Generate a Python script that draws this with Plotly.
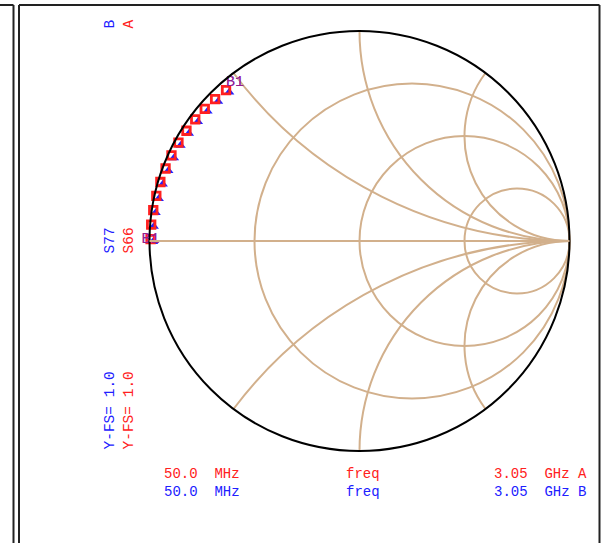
import numpy as np
import plotly.graph_objects as go

# Reflection coefficient (magnitude, angle in degrees)
A_MAG = [0.995, 0.995, 0.993, 0.991, 0.989, 0.986, 0.984, 0.981, 0.977, 0.973, 0.969, 0.964, 0.959]
A_ANG = [179.5, 175.5, 171.5, 167.5, 163.5, 159.5, 155.5, 151.5, 147.5, 143.5, 139.5, 135.5, 131.5]
B_MAG = [0.983, 0.982, 0.980, 0.977, 0.975, 0.970, 0.968, 0.966, 0.960, 0.956, 0.952, 0.946, 0.942]
B_ANG = [-179.8, 176.0, 172.1, 168.1, 163.9, 159.8, 155.9, 151.9, 147.8, 143.6, 139.5, 135.4, 131.2]

R_GRID = [1/3, 1.0, 3.0]                       # constant-resistance circles
X_GRID = [-2.0, -1.0, -0.5, 0.5, 1.0, 2.0]     # constant-reactance arcs

MARKER_LABEL = "B1"
SIDE_LABELS_B = ["B", "S77", "Y-FS= 1.0"]
SIDE_LABELS_A = ["A", "S66", "Y-FS= 1.0"]
BOTTOM_A = ["50.0  MHz", "freq", "3.05  GHz A"]
BOTTOM_B = ["50.0  MHz", "freq", "3.05  GHz B"]

RED = "#ff2020"
BLUE = "#2020ff"
TAN = "#d2b08c"
FONT = "Liberation Mono, Courier New, monospace"


def to_z(mag, ang):
    g = np.array(mag) * np.exp(1j * np.deg2rad(np.array(ang)))
    z = (1 + g) / (1 - g)
    return z.real, z.imag


aR, aX = to_z(A_MAG, A_ANG)
bR, bX = to_z(B_MAG, B_ANG)

fig = go.Figure()
fig.add_trace(go.Scattersmith(real=bR, imag=bX, mode="markers",
                              marker=dict(symbol="triangle-up", size=9, color=BLUE),
                              hoverinfo="skip"))
fig.add_trace(go.Scattersmith(real=aR, imag=aX, mode="markers",
                              marker=dict(symbol="square-open", size=7.5, color=RED,
                                          line=dict(width=2.8, color=RED)),
                              hoverinfo="skip"))
idx = [0, len(aR) - 1]
fig.add_trace(go.Scattersmith(real=aR[idx], imag=aX[idx], mode="text",
                              text=[MARKER_LABEL] * 2,
                              textposition=["middle center", "top right"],
                              textfont=dict(family=FONT, size=15, color=BLUE),
                              hoverinfo="skip"))
fig.add_trace(go.Scattersmith(real=aR[idx], imag=aX[idx], mode="text",
                              text=[MARKER_LABEL] * 2,
                              textposition=["middle center", "top right"],
                              textfont=dict(family=FONT, size=15, color="rgba(255,32,32,0.55)"),
                              hoverinfo="skip"))

W, H = 608, 543
ann = []
# rotated side labels
side_y = [24, 241, 411]
for txt, y in zip(SIDE_LABELS_B, side_y):
    ann.append(dict(text=txt, x=109.5 / W, y=1 - y / H, xref="paper", yref="paper",
                    showarrow=False, textangle=-90, xanchor="center", yanchor="middle",
                    font=dict(family=FONT, size=14.5, color=BLUE)))
for txt, y in zip(SIDE_LABELS_A, side_y):
    ann.append(dict(text=txt, x=128.5 / W, y=1 - y / H, xref="paper", yref="paper",
                    showarrow=False, textangle=-90, xanchor="center", yanchor="middle",
                    font=dict(family=FONT, size=14.5, color=RED)))
bottom_x = [161.5, 344, 491.5]
for txt, x in zip(BOTTOM_A, bottom_x):
    ann.append(dict(text=txt.replace(" ", "&nbsp;"), x=x / W, y=1 - 474 / H, xref="paper", yref="paper",
                    showarrow=False, xanchor="left", yanchor="middle",
                    font=dict(family=FONT, size=14, color=RED)))
for txt, x in zip(BOTTOM_B, bottom_x):
    ann.append(dict(text=txt.replace(" ", "&nbsp;"), x=x / W, y=1 - 492 / H, xref="paper", yref="paper",
                    showarrow=False, xanchor="left", yanchor="middle",
                    font=dict(family=FONT, size=14, color=BLUE)))

# panel frames
frame = dict(color="#222222", width=2)
shapes = [
    dict(type="line", xref="paper", yref="paper", x0=0, x1=13.5 / W, y0=1 - 5 / H, y1=1 - 5 / H, line=frame),
    dict(type="line", xref="paper", yref="paper", x0=13.5 / W, x1=13.5 / W, y0=1 - 5 / H, y1=-0.05, line=frame),
    dict(type="line", xref="paper", yref="paper", x0=19 / W, x1=599.5 / W, y0=1 - 5 / H, y1=1 - 5 / H, line=frame),
    dict(type="line", xref="paper", yref="paper", x0=19 / W, x1=19 / W, y0=1 - 5 / H, y1=-0.05, line=frame),
    dict(type="line", xref="paper", yref="paper", x0=599.5 / W, x1=599.5 / W, y0=1 - 5 / H, y1=-0.05, line=frame),
]

fig.update_layout(
    width=W, height=H,
    margin=dict(l=0, r=0, t=0, b=0),
    paper_bgcolor="white",
    plot_bgcolor="white",
    showlegend=False,
    annotations=ann,
    shapes=shapes,
    smith=dict(
        domain=dict(x=[149 / W, 570 / W], y=[92 / H, 512 / H]),
        bgcolor="white",
        realaxis=dict(tickvals=R_GRID, showticklabels=False, ticks="",
                      showgrid=True, gridcolor=TAN, gridwidth=2,
                      showline=True, linecolor=TAN, linewidth=2),
        imaginaryaxis=dict(tickvals=X_GRID, showticklabels=False, ticks="",
                           showgrid=True, gridcolor=TAN, gridwidth=2,
                           showline=True, linecolor="black", linewidth=2),
    ),
)

fig.write_html("out.html", config={"displayModeBar": False},
               post_script="document.body.style.margin='0';document.body.style.overflow='hidden';")
